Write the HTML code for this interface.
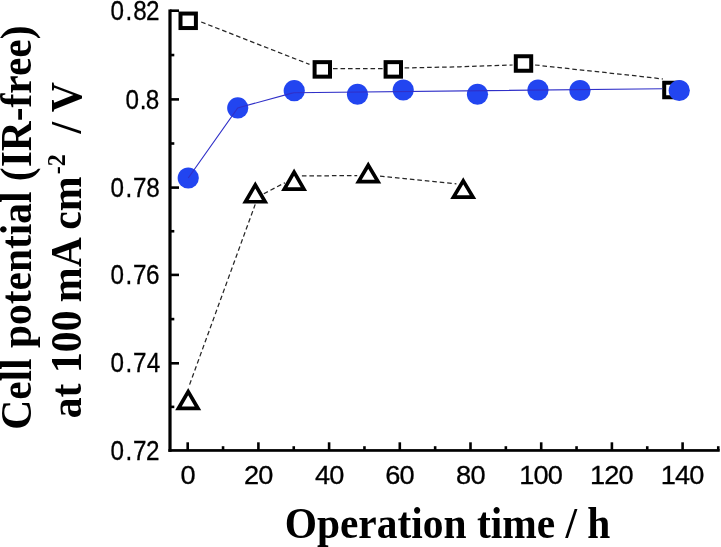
<!DOCTYPE html>
<html><head><meta charset="utf-8"><title>Cell potential vs operation time</title>
<style>html,body{margin:0;padding:0;background:#fff;overflow:hidden}svg{display:block}</style></head>
<body>
<svg width="721" height="547" viewBox="0 0 721 547">
<rect width="721" height="547" fill="#fff"/>
<g fill="none" stroke="#262626" stroke-width="1.25" stroke-dasharray="4.6 2.9">
<polyline points="201.2,22.0 309.5,64.4"/>
<polyline points="333.0,68.6 382.6,68.6"/>
<polyline points="404.6,67.9 460,66.8 512.6,65.0"/>
<polyline points="535.0,65.0 640,76.3 663.0,79.0"/>
<polyline points="189.6,384.6 255.2,204.4"/>
<polyline points="263.8,193.7 285.0,182.7"/>
<polyline points="301.9,175.9 357.2,175.6"/>
<polyline points="380.0,176.2 456.4,183.8"/>
</g>
<g fill="#fff" stroke="#000" stroke-width="4.0" stroke-linejoin="miter">
<rect x="180.50" y="13.55" width="15.4" height="14.5" />
<rect x="314.60" y="62.15" width="15.4" height="14.5" />
<rect x="385.60" y="62.15" width="15.4" height="14.5" />
<rect x="515.80" y="56.25" width="15.4" height="14.5" />
<rect x="664.20" y="82.75" width="15.4" height="14.5" />
</g>
<g fill="#fff" stroke="#000" stroke-width="3.7" stroke-linejoin="miter" stroke-miterlimit="10">
<polygon points="188.20,391.59 197.99,408.45 178.41,408.45"/>
<polygon points="255.30,184.89 265.09,201.75 245.51,201.75"/>
<polygon points="294.10,172.19 303.89,189.05 284.31,189.05"/>
<polygon points="368.25,165.21 377.99,181.55 358.51,181.55"/>
<polygon points="463.25,180.89 472.98,197.05 453.52,197.05"/>
</g>
<g fill="#2245f0">
<circle cx="188.25" cy="178.0" r="10.6"/>
<circle cx="237.75" cy="107.9" r="10.6"/>
<circle cx="294.25" cy="90.7" r="10.6"/>
<circle cx="357.5" cy="94.25" r="10.6"/>
<circle cx="403.25" cy="90.0" r="10.6"/>
<circle cx="477.5" cy="94.25" r="10.6"/>
<circle cx="538.0" cy="90.0" r="10.6"/>
<circle cx="580.0" cy="90.5" r="10.6"/>
<circle cx="679.25" cy="90.5" r="10.6"/>
</g>
<polyline fill="none" stroke="#3030c8" stroke-width="1.15" points="188.25,178 237.75,107.9 291,93.4 294,92.7 662.5,88.8"/>
<rect x="168.40" y="9.45" width="3.2" height="442.35" fill="#000"/>
<rect x="168.40" y="449.10" width="551.30" height="2.7" fill="#000"/>
<g stroke="#000" stroke-width="2.6">
<line x1="170.0" x2="179.0" y1="10.70" y2="10.70"/>
<line x1="170.0" x2="174.3" y1="55.05" y2="55.05"/>
<line x1="170.0" x2="179.0" y1="99.40" y2="99.40"/>
<line x1="170.0" x2="174.3" y1="143.50" y2="143.50"/>
<line x1="170.0" x2="179.0" y1="187.60" y2="187.60"/>
<line x1="170.0" x2="174.3" y1="231.25" y2="231.25"/>
<line x1="170.0" x2="179.0" y1="274.90" y2="274.90"/>
<line x1="170.0" x2="174.3" y1="319.10" y2="319.10"/>
<line x1="170.0" x2="179.0" y1="363.30" y2="363.30"/>
<line x1="170.0" x2="174.3" y1="406.88" y2="406.88"/>
<line y1="450.45" y2="442.3" x1="187.70" x2="187.70"/>
<line y1="450.45" y2="446.2" x1="223.05" x2="223.05"/>
<line y1="450.45" y2="442.3" x1="258.40" x2="258.40"/>
<line y1="450.45" y2="446.2" x1="293.75" x2="293.75"/>
<line y1="450.45" y2="442.3" x1="329.10" x2="329.10"/>
<line y1="450.45" y2="446.2" x1="364.45" x2="364.45"/>
<line y1="450.45" y2="442.3" x1="399.80" x2="399.80"/>
<line y1="450.45" y2="446.2" x1="435.15" x2="435.15"/>
<line y1="450.45" y2="442.3" x1="470.50" x2="470.50"/>
<line y1="450.45" y2="446.2" x1="505.85" x2="505.85"/>
<line y1="450.45" y2="442.3" x1="541.20" x2="541.20"/>
<line y1="450.45" y2="446.2" x1="576.55" x2="576.55"/>
<line y1="450.45" y2="442.3" x1="611.90" x2="611.90"/>
<line y1="450.45" y2="446.2" x1="647.25" x2="647.25"/>
<line y1="450.45" y2="442.3" x1="682.60" x2="682.60"/>
<line y1="450.45" y2="446.2" x1="718.25" x2="718.25"/>
</g>
<g font-family="'Liberation Sans', 'IPAGothic', sans-serif" fill="#000" stroke="#000" stroke-width="0.3">
<text transform="scale(0.905,1)" font-size="26.8" x="122.16 138.56 147.13 161.42" y="19.80">0.82</text>
<text transform="scale(0.905,1)" font-size="26.8" x="138.73 154.36 161.17" y="108.80">0.8</text>
<text transform="scale(0.905,1)" font-size="26.8" x="122.16 138.56 146.92 161.61" y="196.70">0.78</text>
<text transform="scale(0.905,1)" font-size="26.8" x="122.16 138.56 146.92 161.40" y="284.00">0.76</text>
<text transform="scale(0.905,1)" font-size="26.8" x="122.16 138.56 146.92 162.15" y="372.40">0.74</text>
<text transform="scale(0.905,1)" font-size="26.8" x="122.16 138.56 146.92 161.42" y="459.55">0.72</text>
<text transform="scale(1.03,1)" font-size="26.4" x="175.28" y="484.00">0</text>
<text transform="scale(1.03,1)" font-size="26.4" x="236.84 250.72" y="484.00">20</text>
<text transform="scale(1.03,1)" font-size="26.4" x="305.83 319.72" y="484.00">40</text>
<text transform="scale(1.03,1)" font-size="26.4" x="374.10 387.99" y="484.00">60</text>
<text transform="scale(1.03,1)" font-size="26.4" x="442.85 456.73" y="484.00">80</text>
<text transform="scale(1.03,1)" font-size="26.4" x="504.11 518.00 531.88" y="484.00">100</text>
<text transform="scale(1.03,1)" font-size="26.4" x="572.75 586.64 600.52" y="484.00">120</text>
<text transform="scale(1.03,1)" font-size="26.4" x="641.40 655.28 669.16" y="484.00">140</text>
</g>
<g font-family="'Liberation Serif', serif" font-weight="bold" font-size="41.45" fill="#000">
<text transform="translate(284.7,538.1) scale(1,1.07)">Operation time / h</text>
<text transform="translate(31.4,429.7) rotate(-90) scale(1,1.07)">Cell potential (IR-free)</text>
<text font-size="41.8" transform="translate(80.9,418.3) rotate(-90) scale(1,1.07)">at 100<tspan dx="-2.2"> mA</tspan><tspan dx="-3.0"> cm</tspan><tspan font-size="24" dx="2.2" dy="-15">-2</tspan><tspan dx="10.3" dy="15"> / V</tspan></text>
</g>
</svg>
</body></html>
